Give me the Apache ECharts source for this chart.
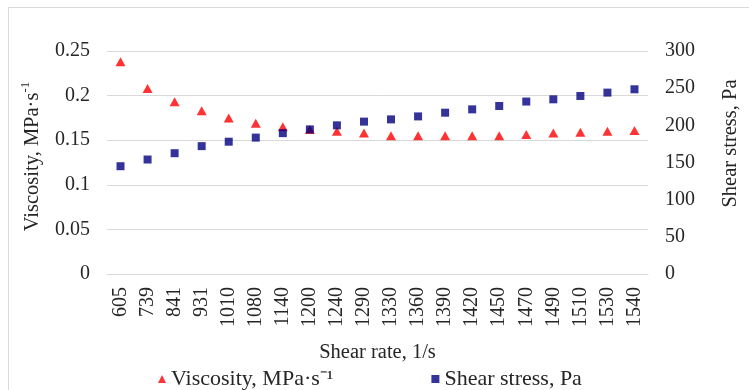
<!DOCTYPE html>
<html>
<head>
<meta charset="utf-8">
<script src="https://cdn.jsdelivr.net/npm/echarts@6/dist/echarts.min.js"></script>
<style>
  html, body { margin: 0; padding: 0; background: #fff; }
  #wrap { position: relative; width: 749px; height: 390px; }
  #frame { position: absolute; left: 8px; top: 7px; right: -2px; bottom: -2px; border-top: 1px solid #d9d9d9; border-left: 1px solid #d9d9d9; }
  #chart { position: absolute; left: 0; top: 0; width: 749px; height: 390px; }
</style>
</head>
<body>
<div id="wrap">
  <div id="frame"></div>
  <div id="chart"></div>
</div>
<script>
// shear rate, 1/s
const shearRate = ['605', '739', '841', '931', '1010', '1080', '1140', '1200', '1240', '1290',
  '1330', '1360', '1390', '1420', '1450', '1470', '1490', '1510', '1530', '1540']
// viscosity, MPa·s-1 (left axis)
const viscosity = [0.238, 0.208, 0.193, 0.183, 0.175, 0.169, 0.165, 0.162, 0.160, 0.158,
  0.155, 0.155, 0.155, 0.155, 0.155, 0.1565, 0.158, 0.159, 0.160, 0.161]
// shear stress, Pa (right axis)
const shearStress = [145, 154, 162.5, 172, 178, 183.5, 189.5, 194.5, 200, 205,
  208, 212, 217, 221.5, 226, 232, 235, 239.5, 244, 248.5]

const font = "'Liberation Serif', 'Times New Roman', serif"
const textColor = '#262626'
const lineColor = '#d9d9d9'

const myChart = echarts.init(document.getElementById('chart'))
myChart.setOption({
  animation: false,
  textStyle: { fontFamily: font, color: textColor },
  grid: {
    left: 107,
    right: 101,
    top: 51,
    bottom: 116
  },
  legend: {
    data: [
      { name: 'Viscosity, MPa·s⁻¹', icon: 'triangle' },
      { name: 'Shear stress, Pa', icon: 'rect' }
    ],
    left: 153,
    top: 363,
    itemWidth: 8,
    itemHeight: 8,
    itemGap: 98,
    textStyle: { fontFamily: font, fontSize: 22, color: textColor }
  },
  xAxis: {
    type: 'category',
    data: shearRate,
    name: 'Shear rate, 1/s',
    nameLocation: 'middle',
    nameGap: 68,
    nameTextStyle: { fontFamily: font, fontSize: 20.5, color: textColor },
    axisLine: { lineStyle: { color: lineColor } },
    axisTick: { show: false },
    axisLabel: {
      rotate: 90,
      margin: 13,
      fontFamily: font,
      fontSize: 20,
      color: textColor
    }
  },
  yAxis: [
    {
      type: 'value',
      min: 0,
      max: 0.25,
      interval: 0.05,
      name: 'Viscosity, MPa·s{sup|-1}',
      nameLocation: 'middle',
      nameGap: 61,
      nameTextStyle: {
        fontFamily: font,
        fontSize: 20.5,
        color: textColor,
        padding: [0, 0, 0, 12],
        rich: {
          sup: { fontFamily: font, fontSize: 13, color: textColor, verticalAlign: 'top', padding: [0, 0, 14, 0] }
        }
      },
      axisLine: { show: false },
      axisTick: { show: false },
      splitLine: { lineStyle: { color: lineColor } },
      axisLabel: { margin: 17, fontFamily: font, fontSize: 20, color: textColor }
    },
    {
      type: 'value',
      min: 0,
      max: 300,
      interval: 50,
      name: 'Shear stress, Pa',
      nameLocation: 'middle',
      nameGap: 72,
      nameTextStyle: {
        fontFamily: font,
        fontSize: 20.5,
        color: textColor,
        padding: [0, 0, 0, 38]
      },
      axisLine: { show: false },
      axisTick: { show: false },
      splitLine: { show: false },
      axisLabel: { margin: 17, fontFamily: font, fontSize: 20, color: textColor }
    }
  ],
  series: [
    {
      name: 'Viscosity, MPa·s⁻¹',
      type: 'scatter',
      yAxisIndex: 0,
      symbol: 'triangle',
      symbolSize: [10, 9],
      itemStyle: { color: '#ff0000' },
      data: viscosity
    },
    {
      name: 'Shear stress, Pa',
      type: 'scatter',
      yAxisIndex: 1,
      symbol: 'rect',
      symbolSize: 8,
      itemStyle: { color: '#000080' },
      data: shearStress
    }
  ]
})
window.addEventListener('resize', () => {
  myChart.resize()
})
</script>
</body>
</html>
